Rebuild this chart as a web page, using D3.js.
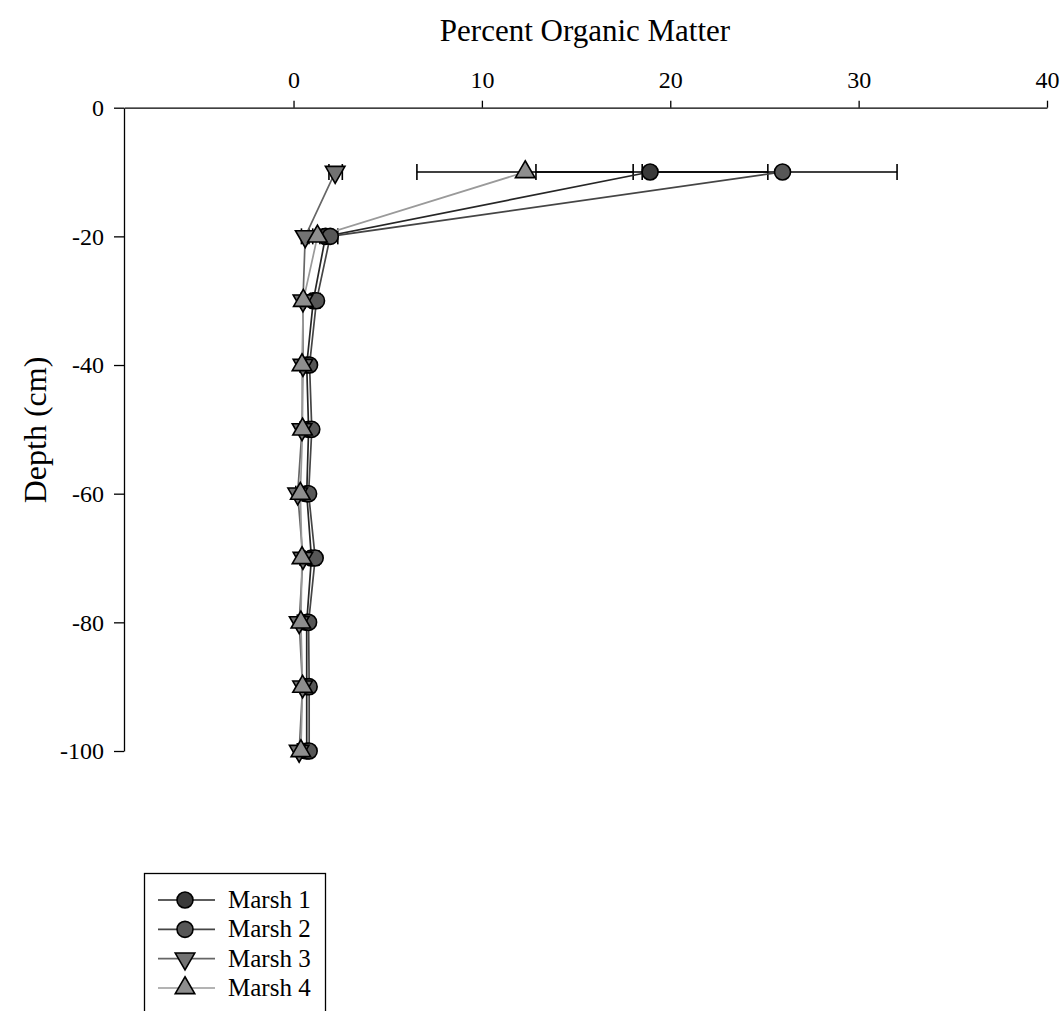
<!DOCTYPE html>
<html>
<head>
<meta charset="utf-8">
<script src="https://cdn.jsdelivr.net/npm/d3@7"></script>
<style>
  html, body { margin: 0; padding: 0; background: #fff; }
  svg text { font-family: "Liberation Serif", "DejaVu Serif", serif; }
</style>
</head>
<body>
<svg id="chart" width="1063" height="1011"></svg>
<script>
// Core sampling depths (cm)
const depths = [-10, -20, -30, -40, -50, -60, -70, -80, -90, -100];

const seriesNames = ["Marsh 1", "Marsh 2", "Marsh 3", "Marsh 4"];

// Percent organic matter per depth
const marsh1 = [18.93, 1.7, 1.05, 0.7, 0.8, 0.7, 0.95, 0.7, 0.7, 0.7];
const marsh2 = [25.96, 1.95, 1.22, 0.85, 0.97, 0.8, 1.15, 0.8, 0.83, 0.83];
const marsh3 = [2.21, 0.62, 0.5, 0.5, 0.45, 0.22, 0.5, 0.3, 0.48, 0.3];
const marsh4 = [12.3, 1.27, 0.52, 0.45, 0.48, 0.36, 0.45, 0.39, 0.48, 0.39];

// Error bar extents (minus / plus)
const marsh1ErrLo = [6.06, 0.3, 0.15, 0.1, 0.1, 0.1, 0.15, 0.1, 0.1, 0.1];
const marsh1ErrHi = [6.25, 0.3, 0.15, 0.1, 0.1, 0.1, 0.15, 0.1, 0.1, 0.1];
const marsh2ErrLo = [7.45, 0.4, 0.2, 0.1, 0.1, 0.1, 0.2, 0.1, 0.1, 0.1];
const marsh2ErrHi = [6.08, 0.4, 0.2, 0.1, 0.1, 0.1, 0.2, 0.1, 0.1, 0.1];
const marsh3ErrLo = [0.33, 0.2, 0.1, 0.1, 0.1, 0.1, 0.1, 0.1, 0.1, 0.1];
const marsh3ErrHi = [0.38, 0.2, 0.1, 0.1, 0.1, 0.1, 0.1, 0.1, 0.1, 0.1];
const marsh4ErrLo = [5.75, 0.25, 0.1, 0.1, 0.1, 0.1, 0.1, 0.1, 0.1, 0.1];
const marsh4ErrHi = [5.73, 0.25, 0.1, 0.1, 0.1, 0.1, 0.1, 0.1, 0.1, 0.1];

const xTicks = [0, 10, 20, 30, 40];
const yTicks = [0, -20, -40, -60, -80, -100];

const values = [marsh1, marsh2, marsh3, marsh4];
const errLo = [marsh1ErrLo, marsh2ErrLo, marsh3ErrLo, marsh4ErrLo];
const errHi = [marsh1ErrHi, marsh2ErrHi, marsh3ErrHi, marsh4ErrHi];

const styles = [
  { shape: "circle", fill: "#3a3a3a", line: "#262626" },
  { shape: "circle", fill: "#575757", line: "#454545" },
  { shape: "down",   fill: "#727272", line: "#666666" },
  { shape: "up",     fill: "#8e8e8e", line: "#9a9a9a" }
];

const svg = d3.select("#chart");

const x = d3.scaleLinear().domain([-9, 40]).range([124, 1047]);
const y = d3.scaleLinear().domain([0, -100]).range([107.7, 751]);

const tickFont = 24;

function styleAxis(g) {
  g.attr("font-family", null).attr("font-size", null);
  g.select(".domain").attr("stroke", "#000").attr("stroke-width", 1.3);
  g.selectAll(".tick line").attr("stroke", "#000").attr("stroke-width", 1.3);
  g.selectAll("text").attr("font-size", tickFont).attr("fill", "#000")
    .attr("font-family", "'Liberation Serif', serif");
}

// Top x axis
svg.append("g")
  .attr("transform", `translate(0,${y(0)})`)
  .call(d3.axisTop(x).tickValues(xTicks).tickSize(7).tickSizeOuter(0).tickPadding(13))
  .call(styleAxis);

// Left y axis
svg.append("g")
  .attr("transform", `translate(${x(-9)},0)`)
  .call(d3.axisLeft(y).tickValues(yTicks).tickFormat(d => String(d))
    .tickSize(10).tickSizeOuter(0).tickPadding(10))
  .call(styleAxis);

// Axis titles
svg.append("text")
  .attr("x", 585).attr("y", 41)
  .attr("text-anchor", "middle")
  .attr("font-size", 31)
  .text("Percent Organic Matter");

svg.append("text")
  .attr("transform", `translate(46,430) rotate(-90)`)
  .attr("text-anchor", "middle")
  .attr("font-size", 32)
  .text("Depth (cm)");

// Marker shapes
const triSize = 165;
function marker(sel, st) {
  if (st.shape === "circle") {
    sel.append("circle").attr("r", 8);
  } else {
    sel.append("path")
      .attr("d", d3.symbol().type(d3.symbolTriangle).size(triSize)())
      .attr("transform", st.shape === "down" ? "rotate(180)" : null);
  }
  sel.selectAll("circle, path")
    .attr("fill", st.fill)
    .attr("stroke", "#000")
    .attr("stroke-width", 1.6);
}

const plot = svg.append("g");
const capHalf = 8;

// Error bars
values.forEach((vals, si) => {
  const g = plot.append("g").attr("class", "err");
  vals.forEach((v, i) => {
    const lo = x(v - errLo[si][i]);
    const hi = x(v + errHi[si][i]);
    const yy = y(depths[i]);
    g.append("line").attr("x1", lo).attr("x2", hi).attr("y1", yy).attr("y2", yy);
    g.append("line").attr("x1", lo).attr("x2", lo).attr("y1", yy - capHalf).attr("y2", yy + capHalf);
    g.append("line").attr("x1", hi).attr("x2", hi).attr("y1", yy - capHalf).attr("y2", yy + capHalf);
  });
  g.selectAll("line").attr("stroke", "#000").attr("stroke-width", 1.6);
});

// Series lines and markers
const lineGen = d3.line().x(d => x(d[0])).y(d => y(d[1]));
values.forEach((vals, si) => {
  const pts = vals.map((v, i) => [v, depths[i]]);
  plot.append("path")
    .datum(pts)
    .attr("d", lineGen)
    .attr("fill", "none")
    .attr("stroke", styles[si].line)
    .attr("stroke-width", 1.7);
});
values.forEach((vals, si) => {
  vals.forEach((v, i) => {
    const m = plot.append("g").attr("transform", `translate(${x(v)},${y(depths[i])})`);
    marker(m, styles[si]);
  });
});

// Legend
const legend = svg.append("g");
legend.append("rect")
  .attr("x", 144.5).attr("y", 873.5)
  .attr("width", 181).attr("height", 160)
  .attr("fill", "#fff").attr("stroke", "#000").attr("stroke-width", 1.3);

const legendRowY = d3.scalePoint().domain(seriesNames).range([900, 988]);
seriesNames.forEach((name, si) => {
  const ly = legendRowY(name);
  legend.append("line")
    .attr("x1", 158).attr("x2", 215).attr("y1", ly).attr("y2", ly)
    .attr("stroke", styles[si].line).attr("stroke-width", 1.7);
  const m = legend.append("g").attr("transform", `translate(185,${ly})`);
  marker(m, styles[si]);
  legend.append("text")
    .attr("x", 228).attr("y", ly + 8)
    .attr("font-size", 25)
    .text(name);
});
</script>
</body>
</html>
